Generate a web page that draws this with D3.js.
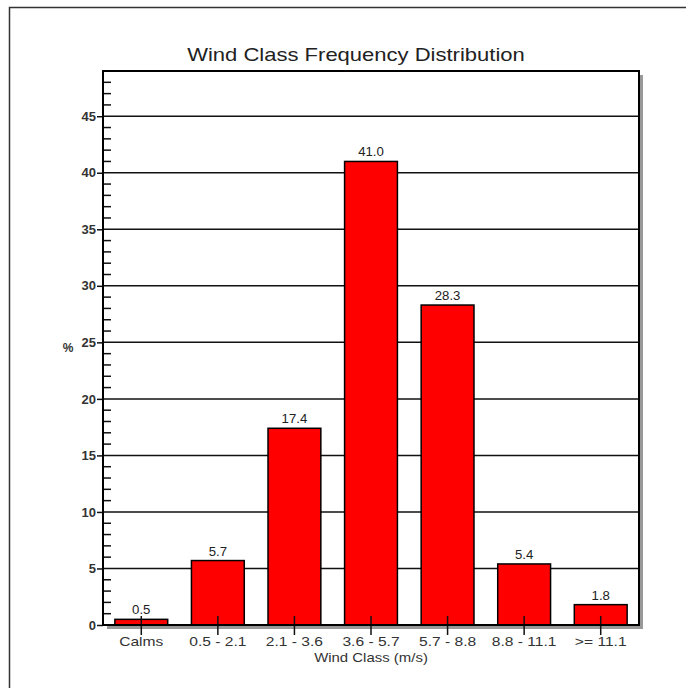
<!DOCTYPE html>
<html><head><meta charset="utf-8">
<script src="https://cdn.jsdelivr.net/npm/d3@7"></script>
<style>body{margin:0;background:#fff}svg{display:block}text{font-family:"Liberation Sans",Arial,sans-serif}</style>
</head><body><svg id="c" width="686" height="688"></svg>
<script>
const categories = ["Calms","0.5 - 2.1","2.1 - 3.6","3.6 - 5.7","5.7 - 8.8","8.8 - 11.1",">= 11.1"];
const values = [0.5, 5.7, 17.4, 41.0, 28.3, 5.4, 1.8];
const yTicks = [0,5,10,15,20,25,30,35,40,45];
const yMax = 49;
const title = "Wind Class Frequency Distribution";
const xTitle = "Wind Class (m/s)";
const yTitle = "%";

const svg = d3.select("#c");
const L=103, R=639, T=71, B=625;
// outer frame
svg.append("rect").attr("x",9.5).attr("y",7.5).attr("width",700).attr("height",700)
  .attr("fill","none").attr("stroke","#333").attr("stroke-width",1.5);
const x = d3.scaleBand().domain(categories).range([L,R]).paddingInner(0.31).paddingOuter(0.155);
const y = d3.scaleLinear().domain([0,yMax]).range([B,T]);
// shadow
svg.append("rect").attr("x",L+4).attr("y",T+4).attr("width",R-L).attr("height",B-T).attr("fill","#999");
svg.append("rect").attr("x",L).attr("y",T).attr("width",R-L).attr("height",B-T).attr("fill","#fff");
// gridlines
svg.append("g").selectAll("line").data(yTicks.filter(d=>d>0)).join("line")
  .attr("x1",L).attr("x2",R).attr("y1",d=>y(d)).attr("y2",d=>y(d))
  .attr("stroke","#111").attr("stroke-width",1.5);
// bars
svg.append("g").selectAll("rect").data(values).join("rect")
  .attr("x",(d,i)=>x(categories[i])).attr("width",x.bandwidth())
  .attr("y",d=>y(d)).attr("height",d=>B-y(d))
  .attr("fill","#ff0000").attr("stroke","#000").attr("stroke-width",1.5);
// value labels
svg.append("g").selectAll("text").data(values).join("text")
  .attr("transform",(d,i)=>`translate(${x(categories[i])+x.bandwidth()/2},${y(d)-5}) scale(1.1,1)`)
  .attr("text-anchor","middle").attr("font-size",12).attr("fill","#222")
  .text(d=>d.toFixed(1));
// minor ticks (inside)
const minor = d3.range(0,yMax+1).filter(d=>d%5!==0);
svg.append("g").selectAll("line").data(minor).join("line")
  .attr("x1",L).attr("x2",L+8).attr("y1",d=>y(d)).attr("y2",d=>y(d))
  .attr("stroke","#111").attr("stroke-width",1.5);
// y axis
const yAxis = d3.axisLeft(y).tickValues(yTicks).tickSize(6).tickPadding(1).tickFormat(d3.format("d"));
const gy = svg.append("g").attr("transform",`translate(${L},0)`).call(yAxis);
gy.select(".domain").remove();
gy.selectAll("line").attr("stroke","#111").attr("stroke-width",1.5);
gy.selectAll("text").attr("font-size",13).attr("font-weight","bold").attr("fill","#333");
// x axis
const xAxis = d3.axisBottom(x).tickSize(10).tickPadding(4);
const gx = svg.append("g").attr("transform",`translate(0,${B})`).call(xAxis);
gx.select(".domain").remove();
gx.selectAll(".tick line").attr("y1",-9).attr("stroke","#111").attr("stroke-width",1.5);
gx.selectAll("text").attr("font-size",13).attr("transform","scale(1.2,1)").attr("fill","#333").attr("dy","0.55em");
// frame lines
svg.append("rect").attr("x",L).attr("y",T).attr("width",R-L).attr("height",B-T)
  .attr("fill","none").attr("stroke","#000").attr("stroke-width",2);
// titles
svg.append("text").attr("transform","translate(356,61) scale(1.19,1)").attr("text-anchor","middle")
  .attr("font-size",18.5).attr("fill","#222").text(title);
svg.append("text").attr("transform",`translate(${(L+R)/2},662) scale(1.15,1)`).attr("text-anchor","middle")
  .attr("font-size",13).attr("fill","#333").text(xTitle);
svg.append("text").attr("x",68).attr("y",352).attr("text-anchor","middle")
  .attr("font-size",12).attr("font-weight","bold").attr("fill","#333").text(yTitle);
</script></body></html>
